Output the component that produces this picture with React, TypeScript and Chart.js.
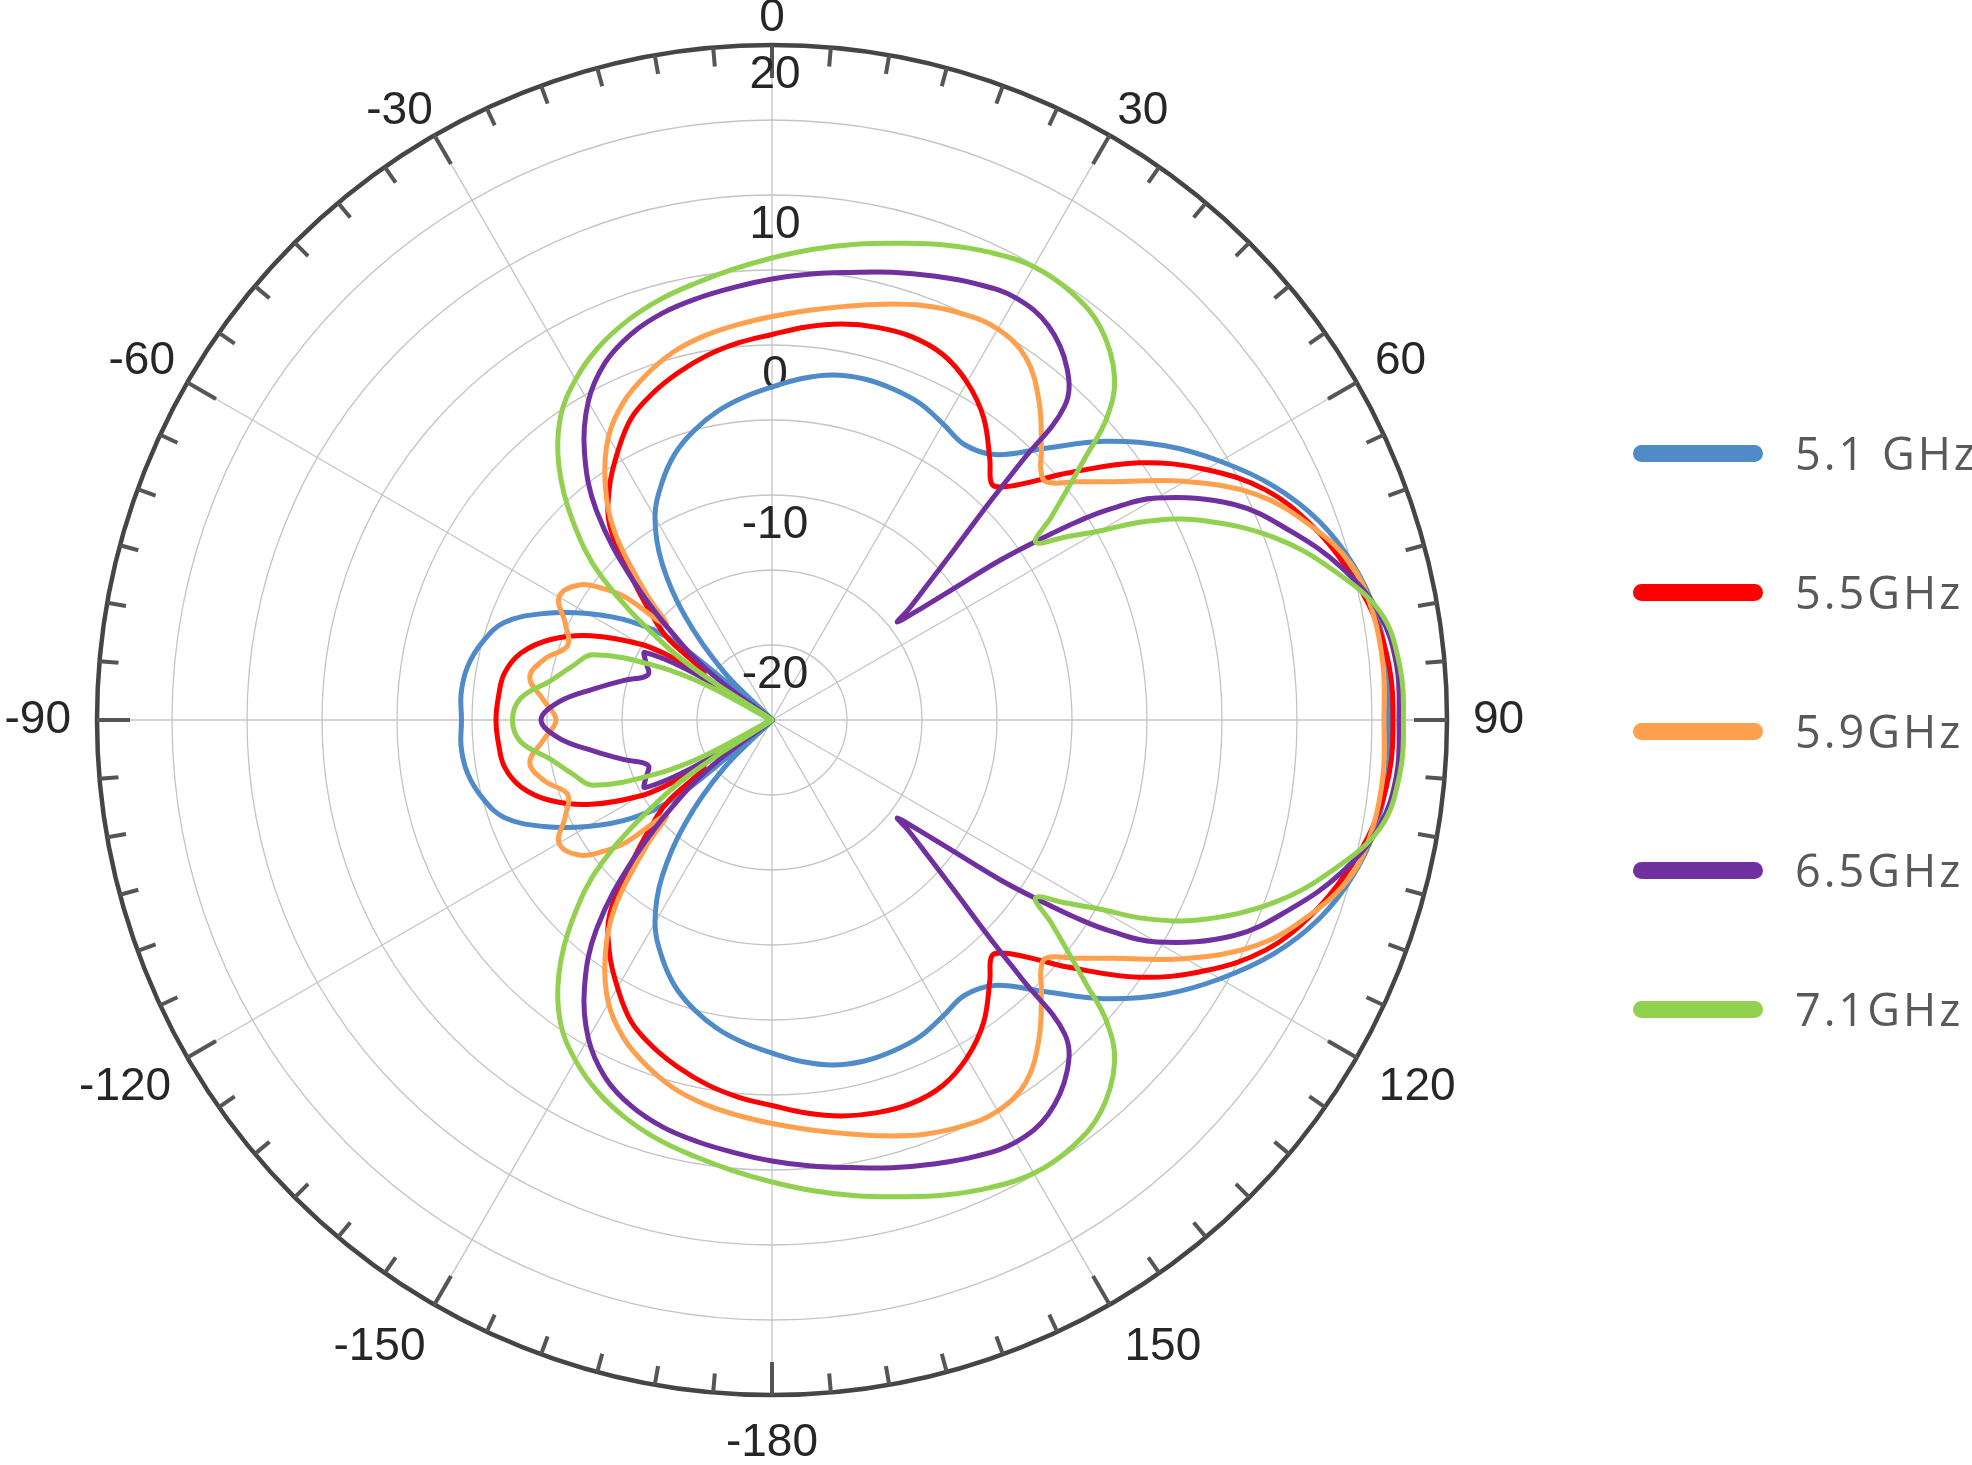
import React, { useEffect, useRef } from "react";
import { Chart, registerables } from "chart.js";

Chart.register(...registerables);

// axis ticks: angles in degrees (clockwise from top), radial values in dB
const angleTicks = [0, 30, 60, 90, 120, 150, -180, -150, -120, -90, -60, -30];
const radialTicks = [-20, -10, 0, 10, 20];
const rMin = -25;
const rMax = 20;

const seriesNames = ["5.1 GHz", "5.5GHz", "5.9GHz", "6.5GHz", "7.1GHz"];
const seriesColors = ["#4f8bc9", "#ff0000", "#ffa04f", "#7030a0", "#92d050"];

// [angle (deg), gain (dB)]
const ghz51 = [
  [0, -2.8], [5, -2.15], [10, -1.65], [15, -1.45], [20, -1.5], [25, -1.7], [30, -2.2], [35, -2.6], [40, -1.9], [45, 0.6],
  [50, 3.9], [55, 6.9], [60, 9.5], [65, 11.9], [70, 13.8], [75, 15.1], [80, 15.9], [85, 16.2], [90, 16.1],
  [95, 16.2], [100, 15.9], [105, 15.1], [110, 13.8], [115, 11.9], [120, 9.5], [125, 6.9], [130, 3.9], [135, 0.6],
  [140, -1.9], [145, -2.6], [150, -2.2], [155, -1.7], [160, -1.5], [165, -1.45], [170, -1.65], [175, -2.15], [180, -2.8],
  [-175, -3.4], [-170, -4.1], [-165, -5.0], [-160, -6.1], [-155, -7.6], [-150, -9.4], [-145, -12.2], [-140, -16.0],
  [-135, -20.5], [-132, -25], [-129, -16.9], [-125, -13.6], [-120, -10.8], [-115, -8.2], [-110, -6.0], [-105, -5.0],
  [-100, -4.4], [-95, -4.2], [-90, -4.3], [-85, -4.2], [-80, -4.4], [-75, -5.0], [-70, -6.0], [-65, -8.2], [-60, -10.8],
  [-55, -13.6], [-51, -16.9], [-48, -25], [-45, -20.5], [-40, -16.0], [-35, -12.2], [-30, -9.4], [-25, -7.6],
  [-20, -6.1], [-15, -5.0], [-10, -4.1], [-5, -3.4],
];

const ghz55 = [
  [0, 0.7], [5, 1.3], [10, 1.8], [15, 2.1], [20, 2.2], [25, 1.9], [30, 1.0], [35, -0.4], [40, -2.4], [43, -3.5],
  [45, -3.0], [48, -1.1], [50, 0.6], [55, 4.9], [60, 8.4], [65, 11.3], [70, 13.2], [75, 14.6], [80, 15.7], [85, 16.3],
  [90, 16.4], [95, 16.3], [100, 15.7], [105, 14.6], [110, 13.2], [115, 11.3], [120, 8.4], [125, 4.9], [130, 0.6],
  [132, -1.1], [135, -3.0], [137, -3.5], [140, -2.4], [145, -0.4], [150, 1.0], [155, 1.9], [160, 2.2], [165, 2.1],
  [170, 1.8], [175, 1.3], [180, 0.7], [-175, 0.25], [-170, -0.3], [-165, -1.0], [-160, -1.8], [-155, -2.8],
  [-150, -4.4], [-145, -6.1], [-140, -8.2], [-135, -12.0], [-130, -15.0], [-128, -16.3], [-126, -19.1], [-124, -19.5],
  [-122, -17.0], [-120, -14.9], [-115, -11.7], [-110, -9.3], [-105, -7.7], [-100, -6.9], [-95, -6.7], [-90, -6.6],
  [-85, -6.7], [-80, -6.9], [-75, -7.7], [-70, -9.3], [-65, -11.7], [-60, -14.9], [-58, -17.0], [-56, -19.5],
  [-54, -19.1], [-52, -16.3], [-50, -15.0], [-45, -12.0], [-40, -8.2], [-35, -6.1], [-30, -4.4], [-25, -2.8],
  [-20, -1.8], [-15, -1.0], [-10, -0.3], [-5, 0.25],
];

const ghz59 = [
  [0, 1.9], [5, 2.4], [10, 3.0], [15, 3.7], [20, 4.4], [25, 4.9], [30, 5.1], [35, 4.5], [40, 2.7], [45, 0.4],
  [47, -0.5], [49, -0.8], [52, 0.8], [55, 2.7], [60, 6.8], [65, 10.6], [70, 13.1], [75, 15.0], [80, 15.7], [85, 15.9],
  [90, 15.8], [95, 15.9], [100, 15.7], [105, 15.0], [110, 13.1], [115, 10.6], [120, 6.8], [125, 2.7], [128, 0.8],
  [131, -0.8], [133, -0.5], [135, 0.4], [140, 2.7], [145, 4.5], [150, 5.1], [155, 4.9], [160, 4.4], [165, 3.7],
  [170, 3.0], [175, 2.4], [180, 1.9], [-175, 1.45], [-170, 1.0], [-165, 0.4], [-160, -0.5], [-155, -1.6],
  [-150, -3.2], [-145, -5.6], [-140, -8.7], [-135, -13.2], [-132, -15.5], [-130, -12.3], [-128, -10.8], [-125, -9.3],
  [-120, -8.6], [-115, -9.8], [-110, -10.5], [-105, -9.3], [-100, -8.6], [-95, -9.7], [-90, -10.6], [-85, -9.7],
  [-80, -8.6], [-75, -9.3], [-70, -10.5], [-65, -9.8], [-60, -8.6], [-55, -9.3], [-52, -10.8], [-50, -12.3],
  [-48, -15.5], [-45, -13.2], [-40, -8.7], [-35, -5.6], [-30, -3.2], [-25, -1.6], [-20, -0.5], [-15, 0.4],
  [-10, 1.0], [-5, 1.45],
];

const ghz65 = [
  [0, 4.4], [5, 4.85], [10, 5.3], [15, 5.9], [20, 6.5], [25, 7.1], [30, 7.5], [35, 7.1], [40, 5.6], [43, 3.6],
  [44, -1.0], [45, -4.5], [47, -8.5], [49, -11.3], [51, -13.3], [52, -14.4], [53, -13.0], [54, -10.4], [55, -6.4],
  [56, -3.5], [57, -0.7], [58, 1.5], [60, 4.6], [65, 9.0], [70, 11.8], [75, 14.3], [80, 16.1], [85, 16.8], [90, 16.8],
  [95, 16.8], [100, 16.1], [105, 14.3], [110, 11.8], [115, 9.0], [120, 4.6], [122, 1.5], [123, -0.7], [124, -3.5],
  [125, -6.4], [126, -10.4], [127, -13.0], [128, -14.4], [129, -13.3], [131, -11.3], [133, -8.5], [135, -4.5],
  [136, -1.0], [137, 3.6], [140, 5.6], [145, 7.1], [150, 7.5], [155, 7.1], [160, 6.5], [165, 5.9], [170, 5.3],
  [175, 4.85], [180, 4.4], [-175, 3.95], [-170, 3.55], [-165, 3.1], [-160, 2.4], [-155, 1.3], [-150, -0.5],
  [-145, -3.2], [-140, -6.8], [-135, -12.0], [-130, -17.2], [-127, -20.5], [-124, -25], [-121, -19.0], [-118, -15.4],
  [-115, -15.7], [-110, -16.2], [-105, -14.8], [-100, -13.0], [-95, -10.8], [-90, -9.6], [-85, -10.8], [-80, -13.0],
  [-75, -14.8], [-70, -16.2], [-65, -15.7], [-62, -15.4], [-59, -19.0], [-56, -25], [-53, -20.5], [-50, -17.2],
  [-45, -12.0], [-40, -6.8], [-35, -3.2], [-30, -0.5], [-25, 1.3], [-20, 2.4], [-15, 3.1], [-10, 3.55], [-5, 3.95],
];

const ghz71 = [
  [0, 5.8], [5, 6.5], [10, 7.2], [15, 7.9], [20, 8.7], [25, 9.4], [30, 9.9], [35, 9.8], [40, 9.1], [45, 7.3],
  [48, 5.0], [50, 2.3], [52, 0.0], [54, -2.0], [56, -3.8], [58, -2.0], [60, 0.2], [62, 3.2], [65, 6.5], [70, 10.6],
  [75, 13.7], [80, 16.2], [85, 17.0], [90, 17.1], [95, 17.0], [100, 16.2], [105, 13.7], [110, 10.6], [115, 6.5],
  [118, 3.2], [120, 0.2], [122, -2.0], [124, -3.8], [126, -2.0], [128, 0.0], [130, 2.3], [132, 5.0], [135, 7.3],
  [140, 9.1], [145, 9.8], [150, 9.9], [155, 9.4], [160, 8.7], [165, 7.9], [170, 7.2], [175, 6.5], [180, 5.8],
  [-175, 5.15], [-170, 4.55], [-165, 4.0], [-160, 3.3], [-155, 2.4], [-150, 1.2], [-145, -0.4], [-140, -2.9],
  [-135, -6.2], [-130, -10.2], [-125, -16.3], [-123, -20.1], [-120, -25], [-118, -20.0], [-115, -16.5], [-110, -12.3],
  [-105, -11.2], [-100, -10.0], [-95, -8.2], [-90, -7.7], [-85, -8.2], [-80, -10.0], [-75, -11.2], [-70, -12.3],
  [-65, -16.5], [-62, -20.0], [-60, -25], [-57, -20.1], [-55, -16.3], [-50, -10.2], [-45, -6.2], [-40, -2.9],
  [-35, -0.4], [-30, 1.2], [-25, 2.4], [-20, 3.3], [-15, 4.0], [-10, 4.55], [-5, 5.15],
];

const seriesData = [ghz51, ghz55, ghz59, ghz65, ghz71];

// one radar slot per degree, gaps between the measured angles are spanned
const degrees = Array.from({ length: 360 }, (_, i) => i);
const toSlots = (pts: number[][]) => {
  const slots: (number | null)[] = degrees.map(() => null);
  pts.forEach(([a, v]) => {
    slots[(a + 360) % 360] = v;
  });
  return slots;
};

const FONT = '"Liberation Sans", Arial, sans-serif';
const sgn = (v: number) => (Math.abs(v) < 1e-6 ? 0 : Math.sign(v));

// outer ring ticks + angle labels + radial labels
const polarFrame = {
  id: "polarFrame",
  beforeDatasetsDraw(chart: any) {
    const scale = chart.scales.r;
    const ctx = chart.ctx;
    const R = scale.drawingArea;
    const cx = scale.xCenter;
    const cy = scale.yCenter;
    ctx.save();

    ctx.strokeStyle = "#555555";
    ctx.lineWidth = 4;
    for (let deg = 0; deg < 360; deg += 5) {
      const len = deg % 30 === 0 ? 33 : 19;
      const p1 = scale.getPointPosition(deg, R);
      const p2 = scale.getPointPosition(deg, R - len);
      ctx.beginPath();
      ctx.moveTo(p1.x, p1.y);
      ctx.lineTo(p2.x, p2.y);
      ctx.stroke();
    }

    ctx.font = `46px ${FONT}`;
    ctx.fillStyle = "#262626";
    ctx.textAlign = "center";
    ctx.textBaseline = "middle";
    const capH = 33;
    angleTicks.forEach((a) => {
      const idx = (a + 360) % 360;
      const ang = (a * Math.PI) / 180;
      const s = Math.sin(ang);
      const c = Math.cos(ang);
      const text = String(a);
      const w = ctx.measureText(text).width - (a < 0 && a !== -90 ? 12 : 0);
      // nearest corner of the label box sits just outside the ring
      const gap = 17 + 9 * Math.abs(s) + (c > 0 ? -7 * c : 15 * Math.pow(c, 4));
      const corner = scale.getPointPosition(idx, R + gap);
      const x = corner.x + (sgn(s) * w) / 2;
      const y = corner.y - (sgn(c) * capH) / 2 + Math.max(0, 7 * Math.sin(2 * Math.abs(ang)));
      ctx.fillText(text, x, y);
    });

    radialTicks.forEach((v) => {
      const d = scale.getDistanceFromCenterForValue(v);
      ctx.fillText(String(v), cx + 3, cy - d + 30);
    });

    ctx.restore();
  },
};

const PolarChart: React.FC = () => {
  const chartRef = useRef<HTMLCanvasElement>(null);
  const chartInstance = useRef<Chart | null>(null);

  useEffect(() => {
    if (chartInstance.current) {
      chartInstance.current.destroy();
    }
    if (chartRef.current) {
      chartInstance.current = new Chart(chartRef.current, {
        type: "radar",
        data: {
          labels: degrees,
          datasets: seriesData.map((pts, i) => ({
            label: seriesNames[i],
            data: toSlots(pts),
            borderColor: seriesColors[i],
            backgroundColor: "rgba(0,0,0,0)",
            borderWidth: 5,
            fill: false,
            pointRadius: 0,
            pointHoverRadius: 0,
            spanGaps: true,
            tension: 0.38,
            borderJoinStyle: "round",
            order: seriesData.length - i,
          })),
        },
        options: {
          responsive: true,
          maintainAspectRatio: false,
          animation: false,
          events: [],
          layout: { padding: { left: 97, top: 45, right: 525, bottom: 70 } },
          plugins: { legend: { display: false }, tooltip: { enabled: false } },
          scales: {
            r: {
              min: rMin,
              max: rMax,
              startAngle: 0,
              ticks: { display: false, stepSize: 5 },
              pointLabels: { display: false },
              grid: {
                circular: true,
                color: (c: any) => (c.tick && c.tick.value === rMax ? "#454545" : "#c4c4c4"),
                lineWidth: (c: any) => (c.tick && c.tick.value === rMax ? 4.5 : 1.3),
              },
              angleLines: {
                color: (c: any) => (c.index % 30 === 0 ? "#c4c4c4" : "rgba(0,0,0,0)"),
                lineWidth: 1.3,
              },
            },
          },
        } as any,
        plugins: [polarFrame],
      });
    }
    return () => {
      if (chartInstance.current) {
        chartInstance.current.destroy();
        chartInstance.current = null;
      }
    };
  }, []);

  return (
    <div style={{ position: "absolute", left: 0, top: 0, width: 1972, height: 1465, overflow: "hidden", background: "#fff" }}>
      <canvas ref={chartRef}></canvas>
      {seriesNames.map((name, i) => {
        const y = 453 + 139 * i;
        return (
          <React.Fragment key={name}>
            <div
              style={{
                position: "absolute",
                left: 1633,
                top: y - 8.5,
                width: 130,
                height: 17,
                borderRadius: 8.5,
                background: seriesColors[i],
              }}
            />
            <div
              style={{
                position: "absolute",
                left: 1795,
                top: y - 23,
                fontFamily: '"Open Sans", sans-serif',
                fontSize: 45,
                lineHeight: "45px",
                letterSpacing: 3,
                color: "#595959",
                whiteSpace: "nowrap",
              }}
            >
              {name}
            </div>
          </React.Fragment>
        );
      })}
    </div>
  );
};

export default function App() {
  return <PolarChart />;
}
